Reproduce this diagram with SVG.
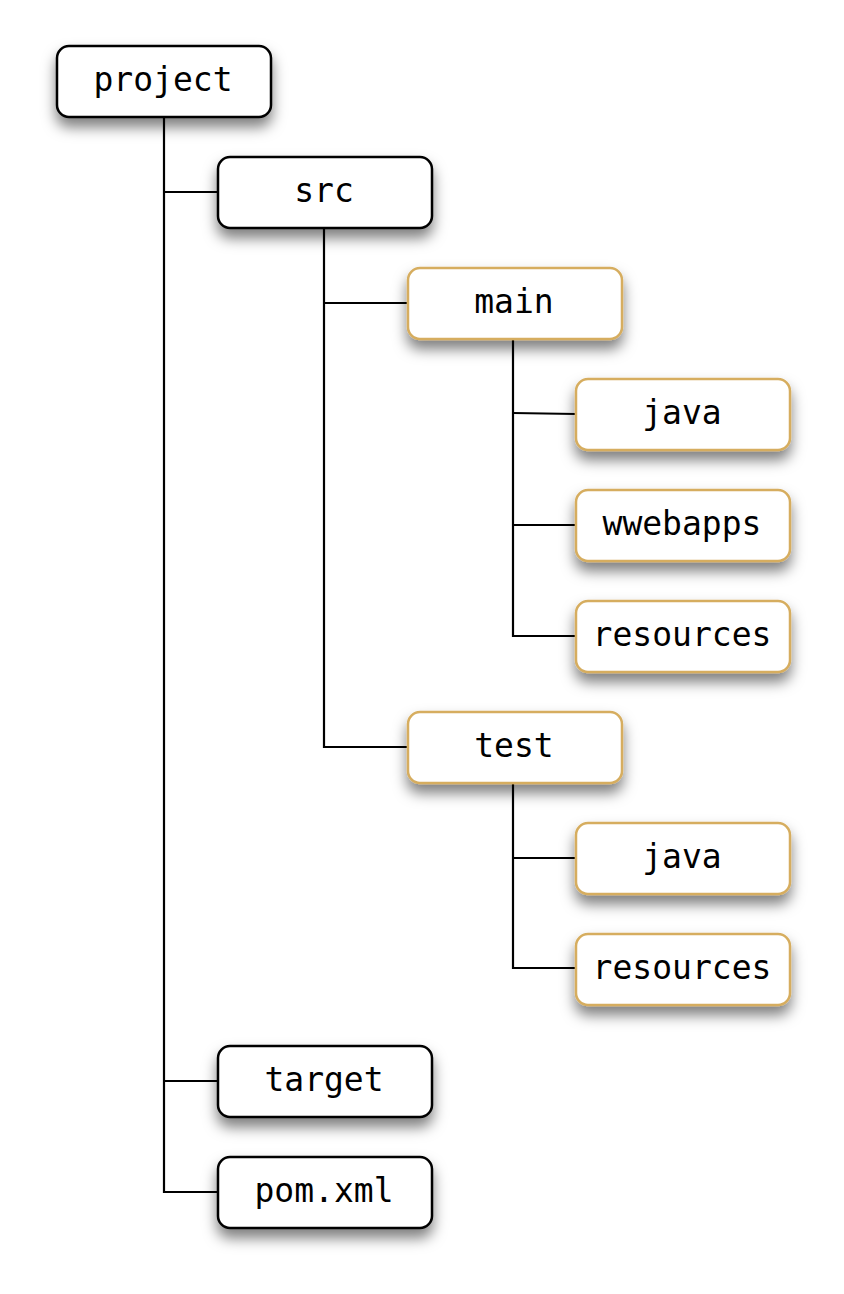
<svg xmlns="http://www.w3.org/2000/svg" width="844" height="1294" viewBox="0 0 844 1294">
<defs>
<filter id="sh" x="-20%" y="-30%" width="140%" height="190%">
<feDropShadow dx="0" dy="9" stdDeviation="7" flood-color="#000" flood-opacity="0.5"/>
</filter>
<style>
.b{fill:#fff;stroke:#000;stroke-width:2.5;filter:url(#sh)}
.g{fill:#fff;stroke:#d6ad5f;stroke-width:2.5;filter:url(#sh)}
.t{font-family:"DejaVu Sans Mono","Liberation Mono",monospace;font-size:33px;fill:#000;text-anchor:middle}
.c line{stroke:#000;stroke-width:2.2}
</style>
</defs>
<rect width="844" height="1294" fill="#fff"/>
<g class="c" id="connectors">
<line x1="164" y1="117" x2="164" y2="1193"/>
<line x1="164" y1="192" x2="218" y2="192"/>
<line x1="164" y1="1081" x2="218" y2="1081"/>
<line x1="164" y1="1192" x2="218" y2="1192"/>
<line x1="324" y1="228" x2="324" y2="748"/>
<line x1="324" y1="303" x2="408" y2="303"/>
<line x1="324" y1="747" x2="408" y2="747"/>
<line x1="513" y1="339" x2="513" y2="637"/>
<line x1="513" y1="413" x2="576" y2="414"/>
<line x1="513" y1="525" x2="576" y2="525"/>
<line x1="513" y1="636" x2="576" y2="636"/>
<line x1="513" y1="783" x2="513" y2="969"/>
<line x1="513" y1="858" x2="576" y2="858"/>
<line x1="513" y1="968" x2="576" y2="968"/>
</g>
<g id="project"><rect class="b" x="57" y="46" width="214" height="71" rx="12"/><text class="t" x="163" y="91">project</text></g>
<g id="src"><rect class="b" x="218" y="157" width="214" height="71" rx="12"/><text class="t" x="324" y="202">src</text></g>
<g id="main"><rect class="g" x="408" y="268" width="214" height="71" rx="12"/><text class="t" x="514" y="313">main</text></g>
<g id="main-java"><rect class="g" x="576" y="379" width="214" height="71" rx="12"/><text class="t" x="682" y="424">java</text></g>
<g id="wwebapps"><rect class="g" x="576" y="490" width="214" height="71" rx="12"/><text class="t" x="682" y="535">wwebapps</text></g>
<g id="main-resources"><rect class="g" x="576" y="601" width="214" height="71" rx="12"/><text class="t" x="682" y="646">resources</text></g>
<g id="test"><rect class="g" x="408" y="712" width="214" height="71" rx="12"/><text class="t" x="514" y="757">test</text></g>
<g id="test-java"><rect class="g" x="576" y="823" width="214" height="71" rx="12"/><text class="t" x="682" y="868">java</text></g>
<g id="test-resources"><rect class="g" x="576" y="934" width="214" height="71" rx="12"/><text class="t" x="682" y="979">resources</text></g>
<g id="target"><rect class="b" x="218" y="1046" width="214" height="71" rx="12"/><text class="t" x="324" y="1091">target</text></g>
<g id="pom"><rect class="b" x="218" y="1157" width="214" height="71" rx="12"/><text class="t" x="324" y="1202">pom.xml</text></g>
</svg>
